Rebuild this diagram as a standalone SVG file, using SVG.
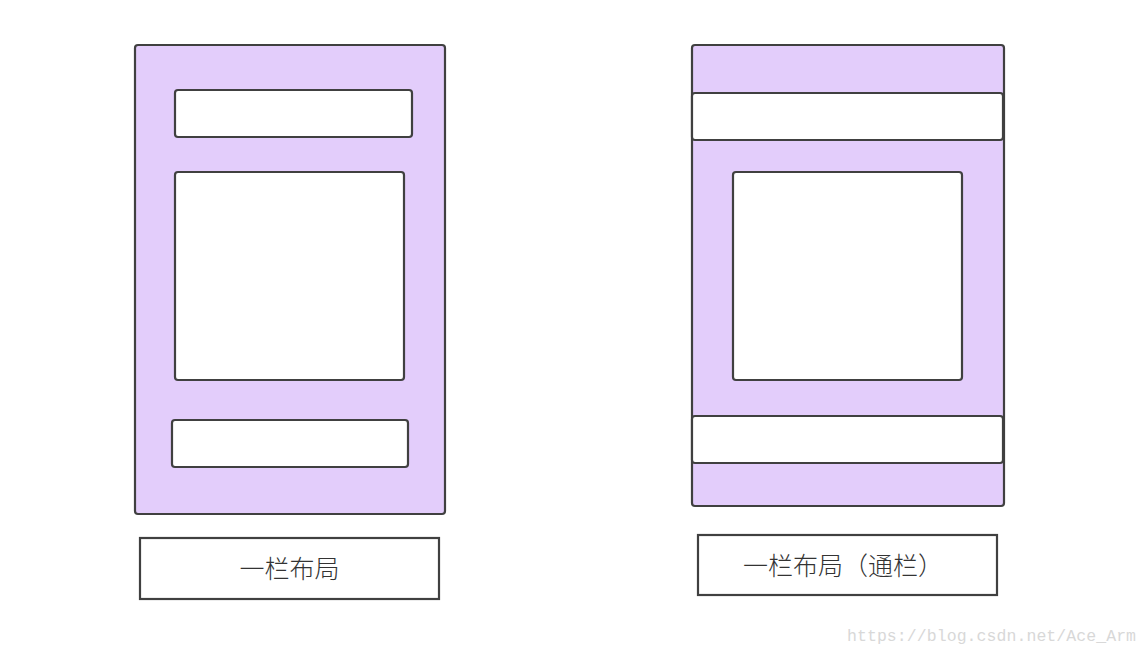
<svg xmlns="http://www.w3.org/2000/svg" width="1148" height="656" viewBox="0 0 1148 656">
<style>
.outer{fill:#e3cdfb;stroke:#404040;stroke-width:2.2}
.inner{fill:#ffffff;stroke:#404040;stroke-width:2.2}
.label{fill:#ffffff;stroke:#404040;stroke-width:2.2}
.txt{font-family:"Noto Sans CJK SC","Noto Sans",sans-serif;font-size:25px;font-weight:300;fill:#333333;text-anchor:middle;dominant-baseline:central}
.wm{font-family:"Liberation Mono",monospace;font-size:16.5px;fill:#d8d8d8}
</style>
<rect width="1148" height="656" fill="#ffffff"/>
<g id="left-layout">
<rect class="outer" x="135" y="45" width="310" height="469" rx="3"/>
<rect class="inner" x="175" y="90" width="237" height="47" rx="3"/>
<rect class="inner" x="175" y="172" width="229" height="208" rx="3"/>
<rect class="inner" x="172" y="420" width="236" height="47" rx="3"/>
</g>
<g id="left-label">
<rect class="label" x="140" y="538" width="299" height="61"/>
<text class="txt" x="289.5" y="567">一栏布局</text>
</g>
<g id="right-layout">
<rect class="outer" x="692" y="45" width="312" height="461" rx="3"/>
<rect class="inner" x="692" y="93" width="311" height="47" rx="3"/>
<rect class="inner" x="733" y="172" width="229" height="208" rx="3"/>
<rect class="inner" x="692" y="416" width="311" height="47" rx="3"/>
</g>
<g id="right-label">
<rect class="label" x="698" y="535" width="299" height="60"/>
<text class="txt" x="843" y="564">一栏布局（通栏）</text>
</g>
<g id="connectors"></g>
<text class="wm" x="847" y="641" textLength="289">https://blog.csdn.net/Ace_Arm</text>
</svg>
